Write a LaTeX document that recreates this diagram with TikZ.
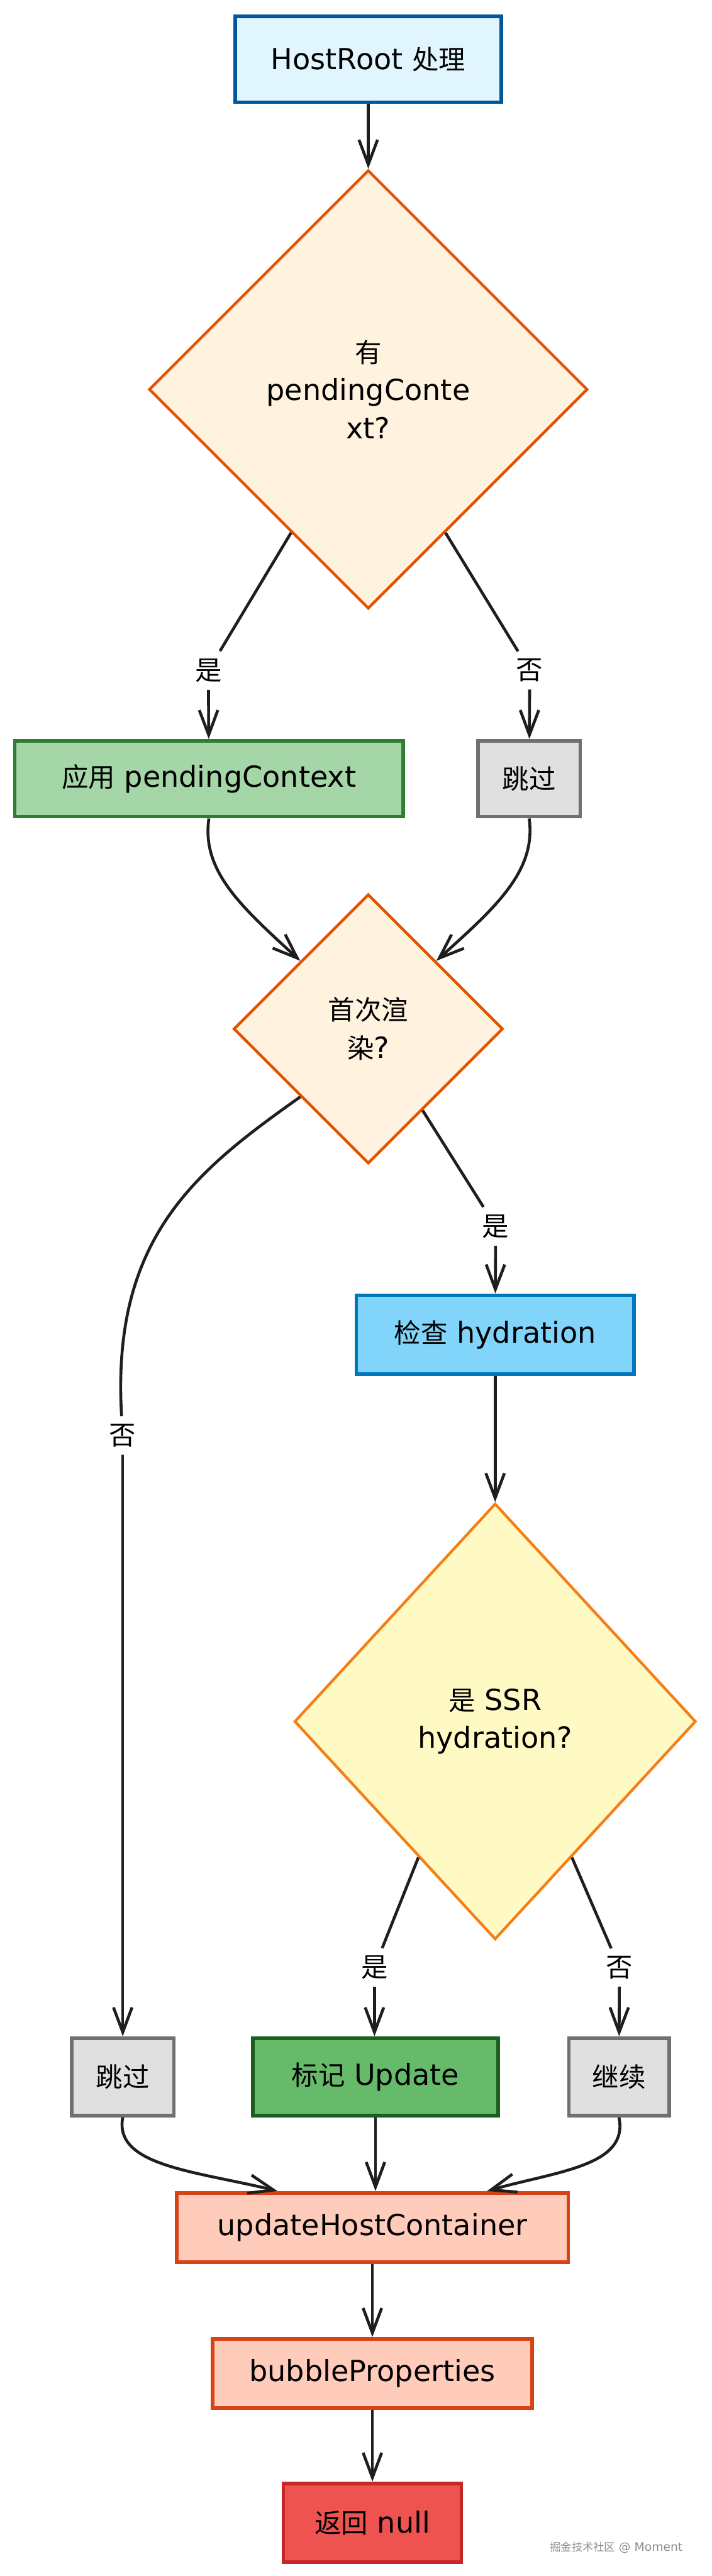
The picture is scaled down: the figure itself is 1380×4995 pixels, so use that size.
\documentclass[tikz,border=0pt]{standalone}
\usepackage{fontspec}
\setmainfont{DejaVu Sans}
\newfontfamily\cjk[Scale=0.92]{Noto Sans CJK SC}
\newcommand{\zh}[1]{{\cjk #1}}
\usepackage{tikz}
\usetikzlibrary{arrows.meta,positioning,shapes.geometric,calc}
\definecolor{inkgray}{RGB}{30,30,30}
\definecolor{hostfill}{HTML}{E1F5FE}
\definecolor{hostdraw}{HTML}{01579B}
\definecolor{decfill}{HTML}{FFF3E0}
\definecolor{decdraw}{HTML}{E65100}
\definecolor{applyfill}{HTML}{A5D6A7}
\definecolor{applydraw}{HTML}{2E7D32}
\definecolor{skipfill}{HTML}{E0E0E0}
\definecolor{skipdraw}{HTML}{707070}
\definecolor{checkfill}{HTML}{81D4FA}
\definecolor{checkdraw}{HTML}{0277BD}
\definecolor{ssrfill}{HTML}{FFF9C4}
\definecolor{ssrdraw}{HTML}{F57F17}
\definecolor{markfill}{HTML}{66BB6A}
\definecolor{markdraw}{HTML}{1B5E20}
\definecolor{updfill}{HTML}{FFCCBC}
\definecolor{upddraw}{HTML}{D84315}
\definecolor{nullfill}{HTML}{EF5350}
\definecolor{nulldraw}{HTML}{C62828}

\begin{document}
\begin{tikzpicture}[x=0.01cm,y=-0.01cm,
    box/.style={draw, line width=2pt, minimum height=1.5cm, inner sep=2pt, font=\fontsize{16}{21}\selectfont},
    dec/.style={diamond, draw, line width=1.5pt, align=center, inner sep=0pt, font=\fontsize{16}{21}\selectfont},
    lbl/.style={inner sep=4pt, font=\fontsize{16}{21}\selectfont},
    conn/.style={line width=1.6pt, draw=inkgray},
    arr/.style={conn, -{Straight Barb[length=4.8mm,width=3.6mm]}}]
        \useasboundingbox (0,0) rectangle (1380,4995);
        \node[box, fill=hostfill, draw=hostdraw, minimum width=5.16cm, minimum height=1.66cm] (host) at (714,115) {HostRoot \zh{处理}};
        \node[dec, fill=decfill, draw=decdraw, minimum width=8.5cm, minimum height=8.5cm] (pend) at (714,755) {\zh{有}\\pendingConte\\xt?};
        \node[lbl] (yes1) at (404,1300) {\zh{是}};
        \node[lbl] (no1) at (1027,1300) {\zh{否}};
        \node[box, fill=applyfill, draw=applydraw, minimum width=7.52cm, minimum height=1.47cm] (apply) at (405,1510) {\zh{应用} pendingContext};
        \node[box, fill=skipfill, draw=skipdraw, minimum width=1.98cm, minimum height=1.47cm] (skip1) at (1026,1510) {\zh{跳过}};
        \node[dec, fill=decfill, draw=decdraw, minimum width=5.22cm, minimum height=5.22cm] (first) at (714,1995) {\zh{首次渲}\\\zh{染}?};
        \node[lbl] (yes2) at (961,2378) {\zh{是}};
        \node[box, fill=checkfill, draw=checkdraw, minimum width=5.38cm, minimum height=1.53cm] (check) at (960,2588) {\zh{检查} hydration};
        \node[lbl] (no2) at (238,2783) {\zh{否}};
        \node[dec, fill=ssrfill, draw=ssrdraw, minimum width=7.78cm, minimum height=8.45cm] (ssr) at (960,3338) {\zh{是} SSR\\hydration?};
        \node[lbl] (yes3) at (726,3815) {\zh{是}};
        \node[lbl] (no3) at (1201,3815) {\zh{否}};
        \node[box, fill=skipfill, draw=skipdraw, minimum width=1.98cm] (skip2) at (238,4027) {\zh{跳过}};
        \node[box, fill=markfill, draw=markdraw, minimum width=4.75cm] (mark) at (728,4027) {\zh{标记} Update};
        \node[box, fill=skipfill, draw=skipdraw, minimum width=1.94cm] (cont) at (1200,4027) {\zh{继续}};
        \node[box, fill=updfill, draw=upddraw, minimum width=7.59cm, minimum height=1.34cm] (upd) at (722,4319) {updateHostContainer};
        \node[box, fill=updfill, draw=upddraw, minimum width=6.19cm, minimum height=1.34cm] (bubble) at (722,4602) {bubbleProperties};
        \node[box, fill=nullfill, draw=nulldraw, minimum width=3.45cm, minimum height=1.53cm] (ret) at (722,4892) {\zh{返回} null};
        \node[text=black!45, font=\fontsize{6.5}{8}\selectfont] (wm) at (1195,4940) {\zh{掘金技术社区} @ Moment};

        \draw[arr] (host) -- (pend);
        \draw[conn] ($(pend.south)!0.35!(pend.west)$) -- (yes1);
        \draw[arr] (yes1) -- (apply);
        \draw[conn] ($(pend.south)!0.35!(pend.east)$) -- (no1);
        \draw[arr] (no1) -- (skip1);
        \draw[arr] (apply.south) .. controls (390,1690) and (470,1760) .. (first.north west);
        \draw[arr] (skip1.south) .. controls (1040,1690) and (960,1760) .. (first.north east);
        \draw[conn] ($(first.south)!0.4!(first.east)$) -- (yes2);
        \draw[arr] (yes2) -- (check);
        \draw[conn] (first.south west) .. controls (380,2270) and (215,2400) .. (no2);
        \draw[arr] (no2) -- (skip2);
        \draw[arr] (check) -- (ssr);
        \draw[conn] ($(ssr.south)!0.38!(ssr.west)$) -- (yes3);
        \draw[arr] (yes3) -- (yes3 |- mark.north);
        \draw[conn] ($(ssr.south)!0.38!(ssr.east)$) -- (no3);
        \draw[arr] (no3) -- (cont);
        \draw[arr] (skip2.south) .. controls (220,4200) and (380,4210) .. ($(upd.north west)!0.26!(upd.north east)$);
        \draw[arr] (mark) -- (mark |- upd.north);
        \draw[arr] (cont.south) .. controls (1220,4200) and (1080,4210) .. ($(upd.north west)!0.79!(upd.north east)$);
        \draw[arr] (upd) -- (bubble);
        \draw[arr] (bubble) -- (ret);
      \end{tikzpicture}
\end{document}
